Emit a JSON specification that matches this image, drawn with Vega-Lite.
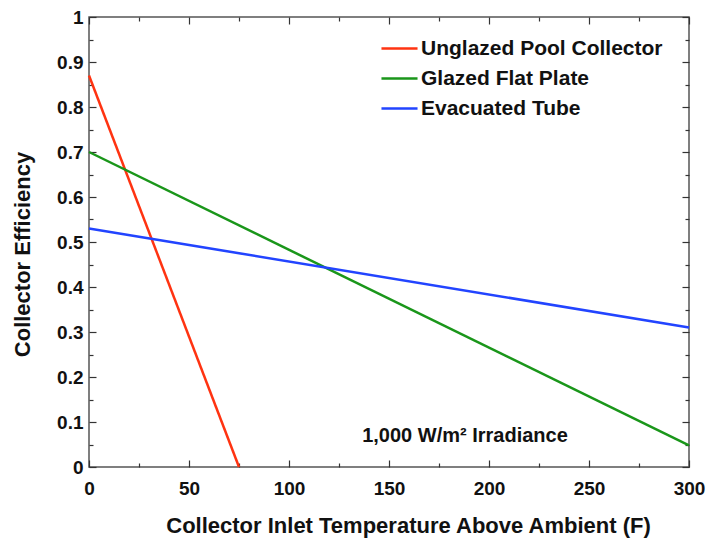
{
  "$schema": "https://vega.github.io/schema/vega-lite/v6.json",
  "autosize": {"type": "none"},
  "width": 600,
  "height": 450,
  "padding": {"left": 89, "top": 17, "right": 19, "bottom": 72},
  "background": "white",
  "config": {
    "view": {"stroke": "#555555", "strokeWidth": 1.5},
    "font": "Liberation Sans",
    "axis": {"grid": false, "domain": false, "labelFlush": false, "labelOverlap": false, "tickColor": "#333333", "tickWidth": 1.2, "labelFont": "Liberation Sans", "labelFontWeight": "bold", "labelFontSize": 19, "labelColor": "#111111", "titleFont": "Liberation Sans", "titleFontWeight": "bold", "titleFontSize": 22, "titleColor": "#111111"}
  },
  "datasets": {
    "lines": [
      {"t": 0, "eff": 0.87, "series": "Unglazed Pool Collector"},
      {"t": 75, "eff": 0.0, "series": "Unglazed Pool Collector"},
      {"t": 0, "eff": 0.70, "series": "Glazed Flat Plate"},
      {"t": 300, "eff": 0.048, "series": "Glazed Flat Plate"},
      {"t": 0, "eff": 0.53, "series": "Evacuated Tube"},
      {"t": 300, "eff": 0.31, "series": "Evacuated Tube"}
    ],
    "note": [
      {"t": 188, "eff": 0.069, "label": "1,000 W/m² Irradiance"}
    ]
  },
  "layer": [
    {
      "data": {"name": "lines"},
      "mark": {"type": "line", "strokeWidth": 2.5},
      "encoding": {
        "x": {"field": "t", "type": "quantitative", "scale": {"domain": [0, 300], "nice": false},
          "axis": {"orient": "bottom", "values": [0, 50, 100, 150, 200, 250, 300], "tickSize": -7, "labelPadding": 19, "title": "Collector Inlet Temperature Above Ambient (F)", "titlePadding": 17, "titleX": 319}},
        "y": {"field": "eff", "type": "quantitative", "scale": {"domain": [0, 1], "nice": false},
          "axis": {"orient": "left", "values": [0, 0.1, 0.2, 0.3, 0.4, 0.5, 0.6, 0.7, 0.8, 0.9, 1], "format": "~g", "tickSize": -7, "labelPadding": 13, "title": "Collector Efficiency", "titlePadding": 22, "titleY": 237}},
        "color": {"field": "series", "type": "nominal",
          "scale": {"domain": ["Unglazed Pool Collector", "Glazed Flat Plate", "Evacuated Tube"], "range": ["#ff3311", "#1a961a", "#2244ff"]},
          "legend": {"orient": "none", "legendX": 291, "legendY": 12, "title": null, "symbolType": "stroke", "symbolSize": 1300, "symbolStrokeWidth": 2.5, "labelFont": "Liberation Sans", "labelFontWeight": "bold", "labelFontSize": 21, "labelColor": "#111111", "labelLimit": 0, "labelOffset": 2, "rowPadding": -2}}
      }
    },
    {
      "data": {"name": "note"},
      "mark": {"type": "text", "font": "Liberation Sans", "fontWeight": "bold", "fontSize": 20, "align": "center", "baseline": "middle", "color": "#111111"},
      "encoding": {
        "x": {"field": "t", "type": "quantitative", "axis": {"orient": "bottom", "values": [25, 75, 125, 175, 225, 275], "tickSize": -4, "labels": false, "title": null}},
        "y": {"field": "eff", "type": "quantitative", "axis": {"orient": "left", "values": [0.05, 0.15, 0.25, 0.35, 0.45, 0.55, 0.65, 0.75, 0.85, 0.95], "tickSize": -4, "labels": false, "title": null}},
        "text": {"field": "label"}
      }
    },
    {
      "data": {"name": "lines"},
      "mark": {"type": "point", "opacity": 0},
      "encoding": {
        "x": {"field": "t", "type": "quantitative", "axis": {"orient": "top", "values": [0, 50, 100, 150, 200, 250, 300], "tickSize": -7, "labels": false, "title": null}},
        "y": {"field": "eff", "type": "quantitative", "axis": {"orient": "right", "values": [0, 0.1, 0.2, 0.3, 0.4, 0.5, 0.6, 0.7, 0.8, 0.9, 1], "tickSize": -7, "labels": false, "title": null}}
      }
    },
    {
      "data": {"name": "lines"},
      "mark": {"type": "point", "opacity": 0},
      "encoding": {
        "x": {"field": "t", "type": "quantitative", "axis": {"orient": "top", "values": [25, 75, 125, 175, 225, 275], "tickSize": -4, "labels": false, "title": null}},
        "y": {"field": "eff", "type": "quantitative", "axis": {"orient": "right", "values": [0.05, 0.15, 0.25, 0.35, 0.45, 0.55, 0.65, 0.75, 0.85, 0.95], "tickSize": -4, "labels": false, "title": null}}
      }
    }
  ],
  "resolve": {"axis": {"x": "independent", "y": "independent"}}
}
